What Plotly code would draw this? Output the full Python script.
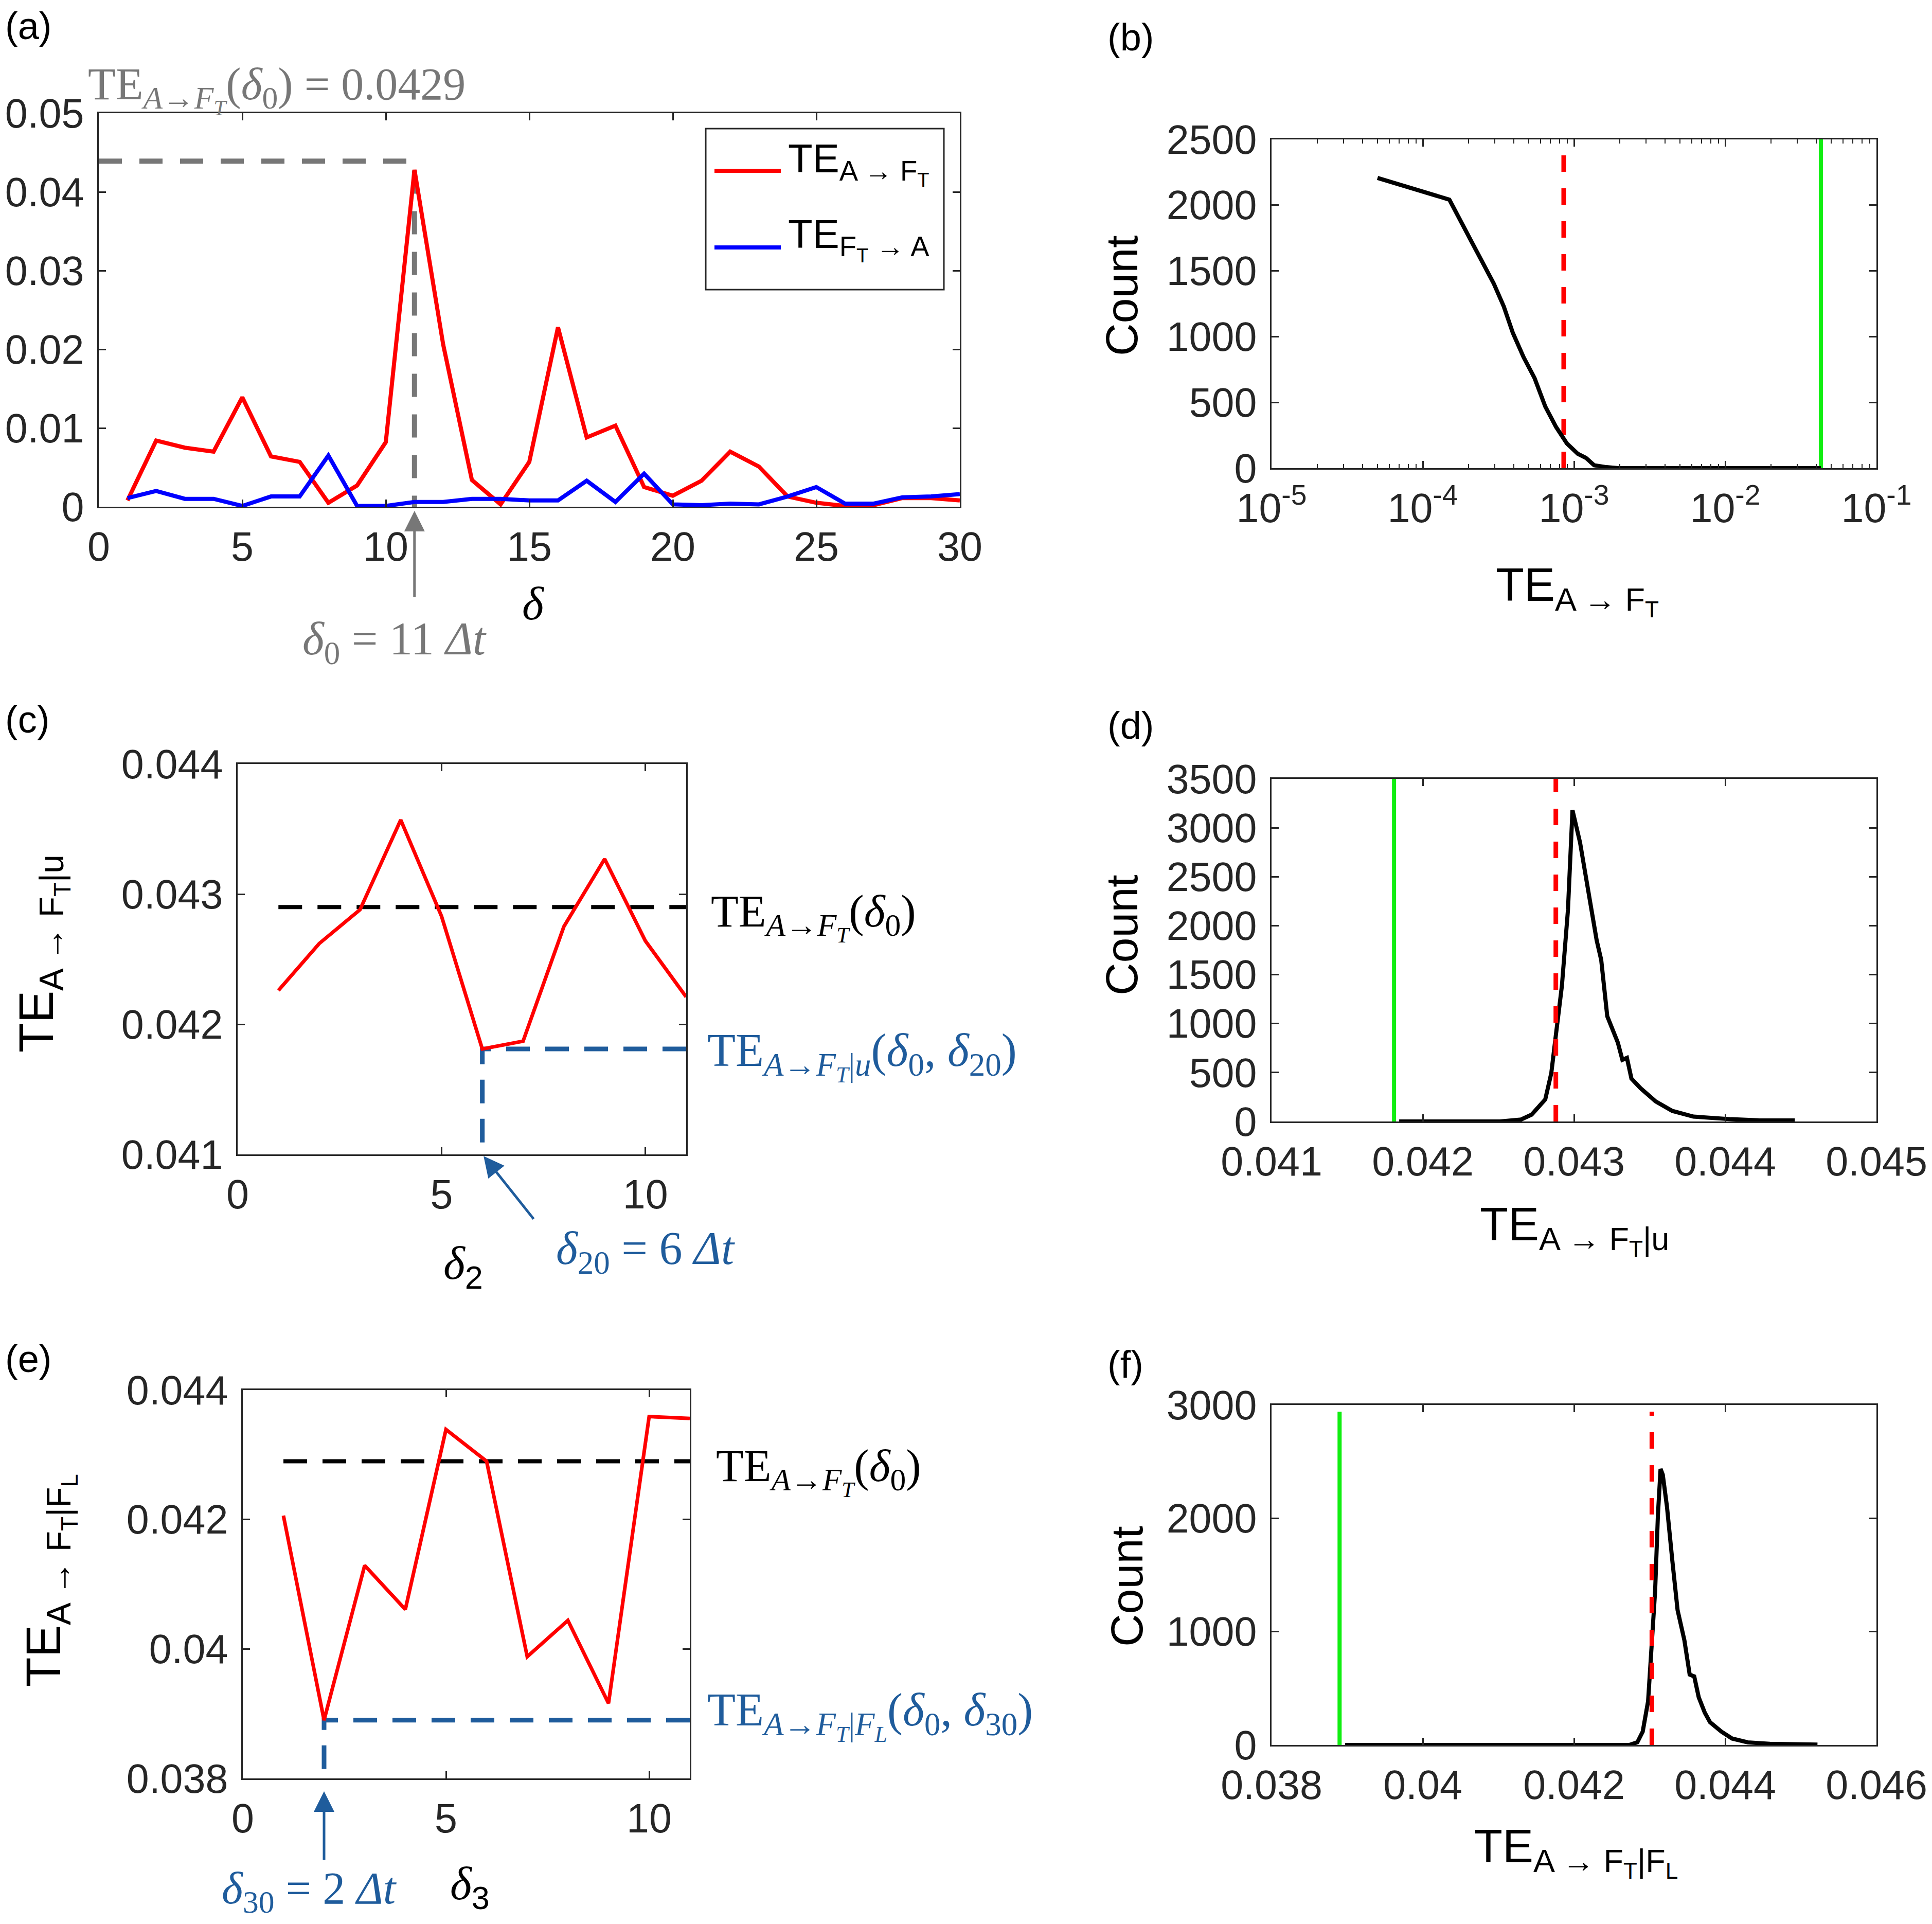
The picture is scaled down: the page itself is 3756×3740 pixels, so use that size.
import plotly.graph_objects as go

W, H = 3756, 3740

# ---- data ----
# (a) TE vs lag delta
delta = list(range(1, 31))
te_a_ft = [0.0008, 0.0084, 0.0075, 0.0070, 0.0139, 0.0064, 0.0057, 0.0005, 0.0027, 0.0082,
           0.0428, 0.0206, 0.0034, 0.0003, 0.0057, 0.0228, 0.0088, 0.0103, 0.0025, 0.0014,
           0.0033, 0.0070, 0.0051, 0.0013, 0.0005, 0.0001, 0.0002, 0.0011, 0.0011, 0.0008]
te_ft_a = [0.0011, 0.0020, 0.0010, 0.0010, 0.0001, 0.0013, 0.0013, 0.0065, 0.0001, 0.0001,
           0.0006, 0.0006, 0.0010, 0.0010, 0.0008, 0.0008, 0.0033, 0.0006, 0.0042, 0.0003,
           0.0002, 0.0004, 0.0003, 0.0013, 0.0025, 0.0004, 0.0004, 0.0012, 0.0013, 0.0016]
delta0 = 11
te_delta0_line = 0.0439

# (b) surrogate distribution, log x
b_te = [5.02e-5, 1.50e-4, 2.12e-4, 2.95e-4, 3.43e-4, 3.94e-4, 4.65e-4, 5.48e-4, 6.46e-4,
        7.62e-4, 8.98e-4, 1.06e-3, 1.20e-3, 1.36e-3, 1.60e-3, 1.96e-3, 5.0e-3, 0.0429]
b_count = [2207, 2042, 1714, 1403, 1231, 1029, 842, 686, 468, 312, 187, 109, 78, 22, 9, 0, 0, 0]
b_thresh = 8.55e-4
b_value = 0.0429

# (c) conditional on u vs delta2
c_delta = list(range(1, 12))
c_te = [0.04226, 0.04262, 0.04288, 0.04357, 0.04283, 0.04181, 0.04187, 0.04275, 0.04327,
        0.04264, 0.04221]
te_delta0 = 0.0429
c_delta_min = 6
c_te_min = 0.04181

# (d) surrogate distribution for TE_{A->FT|u}
d_te = [0.041844, 0.04251, 0.04265, 0.04272, 0.04281, 0.04285, 0.04288, 0.04292, 0.04296,
        0.04299, 0.04304, 0.04310, 0.04315, 0.04318, 0.04322, 0.04329, 0.04332, 0.04335,
        0.04338, 0.04344, 0.04354, 0.04365, 0.04379, 0.04404, 0.04422, 0.04446]
d_count = [0, 0, 20, 70, 225, 495, 880, 1385, 2160, 3180, 2850, 2310, 1850, 1650, 1075, 805,
           630, 650, 437, 340, 205, 108, 50, 23, 12, 10]
d_thresh = 0.04288
d_value = 0.04181

# (e) conditional on F_L vs delta3
e_delta = list(range(1, 12))
e_te = [0.04206, 0.0389, 0.04129, 0.04061, 0.04339, 0.04290, 0.03988, 0.04044, 0.03916,
        0.04359, 0.04356]
e_delta_min = 2
e_te_min = 0.0389

# (f) surrogate distribution for TE_{A->FT|FL}
f_te = [0.038973, 0.04273, 0.042837, 0.042909, 0.04298, 0.04303, 0.043073, 0.04311, 0.043145,
        0.043174, 0.04323, 0.0433, 0.04337, 0.04346, 0.04353, 0.04359, 0.04365, 0.04373,
        0.0438, 0.04395, 0.04409, 0.0443, 0.04459, 0.04522]
f_count = [0, 0, 23, 118, 386, 857, 1360, 2032, 2435, 2385, 2100, 1630, 1190, 924, 621, 605,
           420, 285, 200, 118, 57, 23, 10, 3]
f_thresh = 0.04303
f_value = 0.0389
f_line_top = 2940

# ---- styles ----
SANS = "Liberation Sans, Arial, sans-serif"
SERIF = "Liberation Serif, Times New Roman, serif"
AX = "#262626"
GRAY = "#777777"
BLUE_TXT = "#1f5c9c"
GREEN = "#11ee11"


def px_x(p):
    return p / W


def px_y(p):
    return 1 - p / H


fig = go.Figure()

# (a)
fig.add_trace(go.Scatter(x=[0, delta0, delta0], y=[te_delta0_line, te_delta0_line, 0],
                         mode="lines", line=dict(color=GRAY, width=10, dash="45px,34px"),
                         xaxis="x", yaxis="y"))
fig.add_trace(go.Scatter(x=delta, y=te_a_ft, mode="lines", line=dict(color="#ff0000", width=8),
                         xaxis="x", yaxis="y"))
fig.add_trace(go.Scatter(x=delta, y=te_ft_a, mode="lines", line=dict(color="#0000ff", width=8),
                         xaxis="x", yaxis="y"))

# (b)
fig.add_trace(go.Scatter(x=[b_thresh, b_thresh], y=[0, 2500], mode="lines",
                         line=dict(color="#ff0000", width=9, dash="32px,32px"), xaxis="x2", yaxis="y2"))
fig.add_trace(go.Scatter(x=[b_value, b_value], y=[0, 2500], mode="lines",
                         line=dict(color=GREEN, width=8), xaxis="x2", yaxis="y2"))
fig.add_trace(go.Scatter(x=b_te, y=b_count, mode="lines", line=dict(color="black", width=8),
                         xaxis="x2", yaxis="y2"))

# (c)
fig.add_trace(go.Scatter(x=[c_delta[0], c_delta[-1]], y=[te_delta0, te_delta0], mode="lines",
                         line=dict(color="black", width=8, dash="46px,30px"), xaxis="x3", yaxis="y3"))
fig.add_trace(go.Scatter(x=[c_delta[-1], c_delta_min, c_delta_min], y=[c_te_min, c_te_min, 0.041],
                         mode="lines", line=dict(color=BLUE_TXT, width=9, dash="46px,30px"),
                         xaxis="x3", yaxis="y3"))
fig.add_trace(go.Scatter(x=c_delta, y=c_te, mode="lines", line=dict(color="#ff0000", width=7),
                         xaxis="x3", yaxis="y3"))

# (d)
fig.add_trace(go.Scatter(x=[d_value, d_value], y=[0, 3500], mode="lines",
                         line=dict(color=GREEN, width=8), xaxis="x4", yaxis="y4"))
fig.add_trace(go.Scatter(x=d_te, y=d_count, mode="lines", line=dict(color="black", width=8),
                         xaxis="x4", yaxis="y4"))
fig.add_trace(go.Scatter(x=[d_thresh, d_thresh], y=[0, 3500], mode="lines",
                         line=dict(color="#ff0000", width=9, dash="32px,32px"), xaxis="x4", yaxis="y4"))

# (e)
fig.add_trace(go.Scatter(x=[e_delta[0], e_delta[-1]], y=[te_delta0, te_delta0], mode="lines",
                         line=dict(color="black", width=8, dash="46px,30px"), xaxis="x5", yaxis="y5"))
fig.add_trace(go.Scatter(x=[e_delta[-1], e_delta_min, e_delta_min], y=[e_te_min, e_te_min, 0.038],
                         mode="lines", line=dict(color=BLUE_TXT, width=9, dash="46px,30px"),
                         xaxis="x5", yaxis="y5"))
fig.add_trace(go.Scatter(x=e_delta, y=e_te, mode="lines", line=dict(color="#ff0000", width=7),
                         xaxis="x5", yaxis="y5"))

# (f)
fig.add_trace(go.Scatter(x=[f_value, f_value], y=[0, f_line_top], mode="lines",
                         line=dict(color=GREEN, width=8), xaxis="x6", yaxis="y6"))
fig.add_trace(go.Scatter(x=f_te, y=f_count, mode="lines", line=dict(color="black", width=8),
                         xaxis="x6", yaxis="y6"))
fig.add_trace(go.Scatter(x=[f_thresh, f_thresh], y=[0, f_line_top], mode="lines",
                         line=dict(color="#ff0000", width=9, dash="32px,32px"), xaxis="x6", yaxis="y6"))

ax_style = dict(showline=True, linecolor=AX, linewidth=2.5, mirror="allticks", ticks="inside",
                ticklen=14, tickwidth=2.5, tickcolor=AX, showgrid=False, zeroline=False,
                automargin=False, ticklabelstandoff=10,
                tickfont=dict(family=SANS, size=79, color=AX), fixedrange=True)
x_style = dict(ax_style, ticklabelstandoff=7)

dom = {
    "a": ([192, 1866], [220, 985]),
    "b": ([2472, 3648], [271, 910]),
    "c": ([462, 1334], [1485, 2244]),
    "d": ([2472, 3648], [1514, 2180]),
    "e": ([472, 1341], [2702, 3457]),
    "f": ([2472, 3648], [2731, 3392]),
}


def xd(k):
    return [px_x(dom[k][0][0]), px_x(dom[k][0][1])]


def yd(k):
    return [px_y(dom[k][1][1]), px_y(dom[k][1][0])]


log_minor = [m * 10 ** e for e in range(-5, -1) for m in range(2, 10)]

fig.update_layout(
    template="none",
    width=W, height=H, margin=dict(l=0, r=0, t=0, b=0, autoexpand=False),
    paper_bgcolor="white", plot_bgcolor="white", showlegend=False,
    xaxis=dict(x_style, domain=xd("a"), anchor="y", range=[0, 30],
               tickvals=[0, 5, 10, 15, 20, 25, 30]),
    yaxis=dict(ax_style, domain=yd("a"), anchor="x", range=[0, 0.05],
               tickvals=[0, 0.01, 0.02, 0.03, 0.04, 0.05],
               ticktext=["0", "0.01", "0.02", "0.03", "0.04", "0.05"]),
    xaxis2=dict(x_style, domain=xd("b"), anchor="y2", type="log", range=[-5, -1],
                tickvals=[1e-5, 1e-4, 1e-3, 1e-2, 1e-1],
                ticktext=["10<sup>-5</sup>", "10<sup>-4</sup>", "10<sup>-3</sup>",
                          "10<sup>-2</sup>", "10<sup>-1</sup>"],
                minor=dict(tickvals=log_minor, ticks="inside", ticklen=8, tickwidth=2, tickcolor=AX)),
    yaxis2=dict(ax_style, domain=yd("b"), anchor="x2", range=[0, 2500],
                tickvals=[0, 500, 1000, 1500, 2000, 2500]),
    xaxis3=dict(x_style, domain=xd("c"), anchor="y3", range=[0, 11], tickvals=[0, 5, 10]),
    yaxis3=dict(ax_style, domain=yd("c"), anchor="x3", range=[0.041, 0.044],
                tickvals=[0.041, 0.042, 0.043, 0.044],
                ticktext=["0.041", "0.042", "0.043", "0.044"]),
    xaxis4=dict(x_style, domain=xd("d"), anchor="y4", range=[0.041, 0.045],
                tickvals=[0.041, 0.042, 0.043, 0.044, 0.045],
                ticktext=["0.041", "0.042", "0.043", "0.044", "0.045"]),
    yaxis4=dict(ax_style, domain=yd("d"), anchor="x4", range=[0, 3500],
                tickvals=[0, 500, 1000, 1500, 2000, 2500, 3000, 3500]),
    xaxis5=dict(x_style, domain=xd("e"), anchor="y5", range=[0, 11], tickvals=[0, 5, 10]),
    yaxis5=dict(ax_style, domain=yd("e"), anchor="x5", range=[0.038, 0.044],
                tickvals=[0.038, 0.040, 0.042, 0.044],
                ticktext=["0.038", "0.04", "0.042", "0.044"]),
    xaxis6=dict(x_style, domain=xd("f"), anchor="y6", range=[0.038, 0.046],
                tickvals=[0.038, 0.040, 0.042, 0.044, 0.046],
                ticktext=["0.038", "0.04", "0.042", "0.044", "0.046"]),
    yaxis6=dict(ax_style, domain=yd("f"), anchor="x6", range=[0, 3000],
                tickvals=[0, 1000, 2000, 3000]),
)

ann = []


def txt(x, y, text, size, family=SANS, color="black", xanchor="center", yanchor="middle", angle=0):
    ann.append(dict(x=px_x(x), y=px_y(y), xref="paper", yref="paper", text=text, showarrow=False,
                    xanchor=xanchor, yanchor=yanchor, textangle=angle,
                    font=dict(family=family, size=size, color=color)))


# panel letters
for lab, (x, y) in {"(a)": (8, 50), "(b)": (2151, 72), "(c)": (8, 1399),
                    "(d)": (2151, 1411), "(e)": (8, 2641), "(f)": (2151, 2652)}.items():
    txt(x, y, lab, 74, xanchor="left")

# axis titles
sub_sans = "<sub><span style='font-family:Liberation Sans'>{}</span></sub>"
txt(1037, 1173, "<i>δ</i>", 90, family=SERIF)
txt(900, 2462, "<i>δ</i>" + sub_sans.format("2"), 90, family=SERIF)
txt(913, 3668, "<i>δ</i>" + sub_sans.format("3"), 90, family=SERIF)
txt(2180, 575, "Count", 88, angle=-90)
txt(2180, 1818, "Count", 88, angle=-90)
txt(2190, 3084, "Count", 88, angle=-90)
txt(3066, 1148, "TE<sub>A → F<sub>T</sub></sub>", 90)
txt(3061, 2391, "TE<sub>A → F<sub>T</sub>|u</sub>", 90)
txt(3064, 3600, "TE<sub>A → F<sub>T</sub>|F<sub>L</sub></sub>", 90)
txt(82, 1854, "TE<sub>A → F<sub>T</sub>|u</sub>", 94, angle=-90)
txt(96, 3072, "TE<sub>A → F<sub>T</sub>|F<sub>L</sub></sub>", 94, angle=-90)

# math annotations
te_sym = "TE<sub><i>A</i>→<i>F<sub>T</sub></i></sub>"
txt(169, 174, te_sym + "(<i>δ</i><sub>0</sub>) = 0.0429", 88, family=SERIF, color=GRAY, xanchor="left")
txt(767, 1248, "<i>δ</i><sub>0</sub> = 11 <i>Δt</i>", 90, family=SERIF, color=GRAY)
txt(1380, 1782, te_sym + "(<i>δ</i><sub>0</sub>)", 88, family=SERIF, xanchor="left")
txt(1373, 2053, "TE<sub><i>A</i>→<i>F<sub>T</sub></i>|<i>u</i></sub>(<i>δ</i><sub>0</sub>, <i>δ</i><sub>20</sub>)",
    90, family=SERIF, color=BLUE_TXT, xanchor="left")
txt(1255, 2433, "<i>δ</i><sub>20</sub> = 6 <i>Δt</i>", 90, family=SERIF, color=BLUE_TXT)
txt(1390, 2860, te_sym + "(<i>δ</i><sub>0</sub>)", 88, family=SERIF, xanchor="left")
txt(1373, 3335, "TE<sub><i>A</i>→<i>F<sub>T</sub></i>|<i>F<sub>L</sub></i></sub>(<i>δ</i><sub>0</sub>, <i>δ</i><sub>30</sub>)",
    90, family=SERIF, color=BLUE_TXT, xanchor="left")
txt(601, 3676, "<i>δ</i><sub>30</sub> = 2 <i>Δt</i>", 88, family=SERIF, color=BLUE_TXT)

# arrows
ann.append(dict(x=delta0, y=0, xref="x", yref="y", ax=0, ay=177, text="", showarrow=True,
                arrowhead=2, arrowsize=1.6, arrowwidth=5, arrowcolor=GRAY, standoff=8))
ann.append(dict(x=c_delta_min, y=0.041, xref="x3", yref="y3", ax=101, ay=127, text="", showarrow=True,
                arrowhead=2, arrowsize=1.6, arrowwidth=5, arrowcolor=BLUE_TXT, standoff=4))
ann.append(dict(x=e_delta_min, y=0.038, xref="x5", yref="y5", ax=0, ay=160, text="", showarrow=True,
                arrowhead=2, arrowsize=1.6, arrowwidth=5, arrowcolor=BLUE_TXT, standoff=25))

# legend of (a), drawn by hand so the sample lines are as long as in the original
txt(1530, 318, "TE<sub>A → F<sub>T</sub></sub>", 78, xanchor="left")
txt(1530, 465, "TE<sub>F<sub>T</sub> → A</sub>", 78, xanchor="left")
fig.update_layout(
    annotations=ann,
    shapes=[
        dict(type="rect", xref="paper", yref="paper", x0=px_x(1372), x1=px_x(1835),
             y0=px_y(563), y1=px_y(250), line=dict(color=AX, width=3), fillcolor="white", layer="below"),
        dict(type="line", xref="paper", yref="paper", x0=px_x(1389), x1=px_x(1518),
             y0=px_y(332), y1=px_y(332), line=dict(color="#ff0000", width=8)),
        dict(type="line", xref="paper", yref="paper", x0=px_x(1389), x1=px_x(1518),
             y0=px_y(481), y1=px_y(481), line=dict(color="#0000ff", width=8)),
    ],
)

fig.write_html("out.html", config={"displayModeBar": False},
               post_script="document.body.style.margin='0';")
